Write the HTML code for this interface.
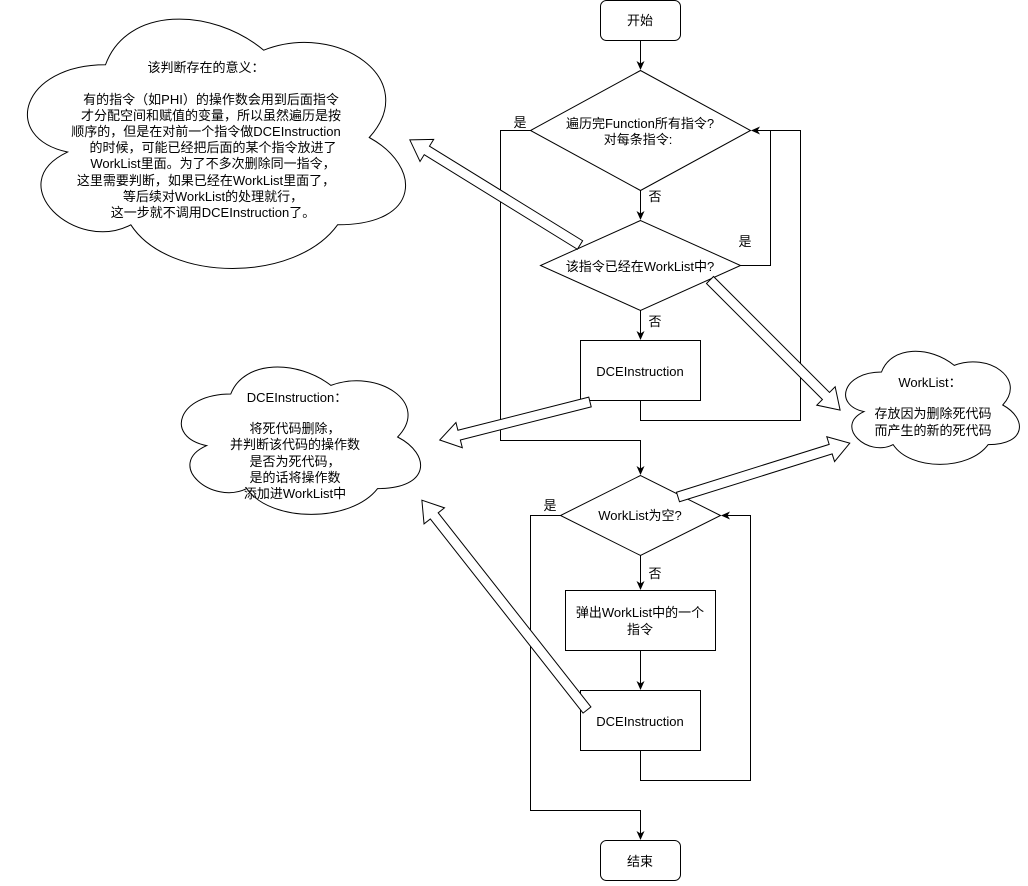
<!DOCTYPE html>
<html><head><meta charset="utf-8"><style>
html,body{margin:0;padding:0;background:#fff;}
svg text{font-family:"Liberation Sans","Noto Sans CJK SC",sans-serif;font-size:13px;fill:#000;}
</style></head><body>
<svg width="1028" height="881" viewBox="0 0 1028 881" xmlns="http://www.w3.org/2000/svg">
<defs>
<marker id="a" markerWidth="10" markerHeight="10" refX="8" refY="5" orient="auto" markerUnits="userSpaceOnUse">
<path d="M0,1 L9,5 L0,9 L2.5,5 Z" fill="#000"/></marker>
</defs>
<g fill="none" stroke="#000" stroke-width="1">
<!-- clouds -->
<g transform="translate(0,-8) scale(422,291)"><path vector-effect="non-scaling-stroke" fill="#fff" d="M0.25,0.25 C0.05,0.25 0,0.5 0.16,0.55 C0,0.66 0.18,0.9 0.31,0.8 C0.4,1 0.7,1 0.8,0.8 C1,0.8 1,0.6 0.875,0.5 C1,0.3 0.8,0.1 0.625,0.2 C0.5,0.05 0.3,0.05 0.25,0.25 Z"/></g>
<g transform="translate(164,351) scale(267,172)"><path vector-effect="non-scaling-stroke" fill="#fff" d="M0.25,0.25 C0.05,0.25 0,0.5 0.16,0.55 C0,0.66 0.18,0.9 0.31,0.8 C0.4,1 0.7,1 0.8,0.8 C1,0.8 1,0.6 0.875,0.5 C1,0.3 0.8,0.1 0.625,0.2 C0.5,0.05 0.3,0.05 0.25,0.25 Z"/></g>
<g transform="translate(833,339) scale(194,132)"><path vector-effect="non-scaling-stroke" fill="#fff" d="M0.25,0.25 C0.05,0.25 0,0.5 0.16,0.55 C0,0.66 0.18,0.9 0.31,0.8 C0.4,1 0.7,1 0.8,0.8 C1,0.8 1,0.6 0.875,0.5 C1,0.3 0.8,0.1 0.625,0.2 C0.5,0.05 0.3,0.05 0.25,0.25 Z"/></g>

<!-- shapes -->
<rect x="600.5" y="0.5" width="80" height="40" rx="6" fill="#fff"/>
<polygon points="640.5,70.5 530.5,130.5 640.5,190.5 750.5,130.5" fill="#fff"/>
<polygon points="640.5,220.5 540.5,265.5 640.5,310.5 740.5,265.5" fill="#fff"/>
<rect x="580.5" y="340.5" width="120" height="60" fill="#fff"/>
<polygon points="640.5,475.5 560.5,515.5 640.5,555.5 720.5,515.5" fill="#fff"/>
<rect x="565.5" y="590.5" width="150" height="60" fill="#fff"/>
<rect x="580.5" y="690.5" width="120" height="60" fill="#fff"/>
<rect x="600.5" y="840.5" width="80" height="40" rx="6" fill="#fff"/>

<!-- connectors -->
<path d="M640.5,40.5 V69" marker-end="url(#a)"/>
<path d="M640.5,190.5 V219" marker-end="url(#a)"/>
<path d="M640.5,310.5 V339" marker-end="url(#a)"/>
<path d="M740.5,265.5 H770.5 V130.5 H752" marker-end="url(#a)"/>
<path d="M640.5,400.5 V420.5 H800.5 V130.5 H752"/>
<path d="M530.5,130.5 H500.5 V440.5 H640.5 V474" marker-end="url(#a)"/>
<path d="M640.5,555.5 V589" marker-end="url(#a)"/>
<path d="M640.5,650.5 V689" marker-end="url(#a)"/>
<path d="M640.5,750.5 V780.5 H750.5 V515.5 H722" marker-end="url(#a)"/>
<path d="M560.5,515.5 H530.5 V810.5 H640.5 V839" marker-end="url(#a)"/>

<!-- block arrows -->
<g fill="#fff">
<polygon transform="translate(580,245) rotate(211.7)" points="0,-5 180,-5 180,-13 200,0 180,13 180,5 0,5"/>
<polygon transform="translate(710,280) rotate(45)" points="0,-5 164,-5 164,-13 184,0 164,13 164,5 0,5"/>
<polygon transform="translate(590,402) rotate(165.8)" points="0,-5 135,-5 135,-13 155,0 135,13 135,5 0,5"/>
<polygon transform="translate(678,497) rotate(-17.4)" points="0,-5 160,-5 160,-13 180,0 160,13 160,5 0,5"/>
<polygon transform="translate(587,710) rotate(231.8)" points="0,-5 247,-5 247,-13 267,0 247,13 247,5 0,5"/>
</g>
</g>

<g text-anchor="middle">
<text x="640" y="25">开始</text>
<text x="640" y="128">遍历完Function所有指令?</text>
<text x="638" y="144">对每条指令:</text>
<text x="640" y="271">该指令已经在WorkList中?</text>
<text x="640" y="376">DCEInstruction</text>
<text x="640" y="520">WorkList为空?</text>
<text x="640" y="617">弹出WorkList中的一个</text>
<text x="640" y="634">指令</text>
<text x="640" y="726">DCEInstruction</text>
<text x="640" y="866">结束</text>

<text x="520" y="127">是</text>
<text x="655" y="201">否</text>
<text x="745" y="246">是</text>
<text x="655" y="326">否</text>
<text x="550" y="510">是</text>
<text x="655" y="578">否</text>

<text x="206" y="72">该判断存在的意义：</text>
<text x="211" y="104">有的指令（如PHI）的操作数会用到后面指令</text>
<text x="211" y="120">才分配空间和赋值的变量，所以虽然遍历是按</text>
<text x="206" y="136">顺序的，但是在对前一个指令做DCEInstruction</text>
<text x="213" y="152">的时候，可能已经把后面的某个指令放进了</text>
<text x="213" y="168">WorkList里面。为了不多次删除同一指令，</text>
<text x="206" y="185">这里需要判断，如果已经在WorkList里面了，</text>
<text x="213" y="201">等后续对WorkList的处理就行，</text>
<text x="213" y="217">这一步就不调用DCEInstruction了。</text>

<text x="297" y="402">DCEInstruction：</text>
<text x="295" y="433">将死代码删除，</text>
<text x="295" y="449">并判断该代码的操作数</text>
<text x="295" y="466">是否为死代码，</text>
<text x="295" y="482">是的话将操作数</text>
<text x="295" y="498">添加进WorkList中</text>

<text x="930" y="387">WorkList：</text>
<text x="933" y="418">存放因为删除死代码</text>
<text x="933" y="435">而产生的新的死代码</text>
</g>
</svg>
</body></html>
